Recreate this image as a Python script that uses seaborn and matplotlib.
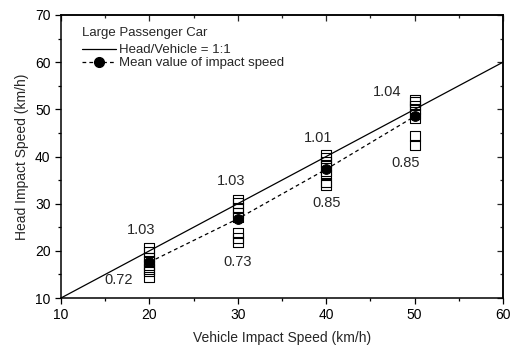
import numpy as np
import pandas as pd
import matplotlib
matplotlib.use("Agg")
import matplotlib.pyplot as plt
import seaborn as sns
from matplotlib.lines import Line2D
from matplotlib.ticker import MultipleLocator

# Vehicle impact speeds (km/h) and the measured head impact speeds at each
vehicle_speeds = [20, 30, 40, 50]
head_20 = [20.6, 19.8, 18.6, 17.8, 17.0, 16.2, 15.6, 14.4]
head_30 = [30.9, 30.2, 29.0, 28.0, 27.2, 23.8, 22.8, 21.9]
head_40 = [40.4, 39.6, 38.8, 38.0, 37.0, 36.2, 34.5, 34.0]
head_50 = [52.0, 51.5, 50.8, 50.0, 49.0, 48.2, 44.4, 42.5]

# Mean head impact speed at each vehicle speed
mean_speeds = [17.6, 26.8, 37.3, 48.5]

# Head/vehicle ratios for the highest and lowest runs
ratio_max = ["1.03", "1.03", "1.01", "1.04"]
ratio_min = ["0.72", "0.73", "0.85", "0.85"]

# Reference line Head/Vehicle = 1:1
ref_x = [10, 60]

groups = [head_20, head_30, head_40, head_50]
df = pd.DataFrame({
    "vehicle": np.repeat(vehicle_speeds, [len(g) for g in groups]),
    "head": np.concatenate(groups),
})
df_mean = pd.DataFrame({"vehicle": vehicle_speeds, "head": mean_speeds})
df_ref = pd.DataFrame({"vehicle": ref_x, "head": ref_x})

sns.set_theme(style="ticks")
plt.rcParams["font.family"] = ["Liberation Sans", "DejaVu Sans"]

W, H = 516, 350
fig = plt.figure(figsize=(W / 100, H / 100), dpi=100)
ax = fig.add_axes([61 / W, 1 - 298 / H, 442 / W, 283 / H])

dash = (0, (3, 2.5))
sns.scatterplot(data=df, x="vehicle", y="head", marker="s", s=50,
                facecolor="none", edgecolor="black", linewidth=0.8,
                ax=ax, zorder=2, legend=False)
sns.lineplot(data=df_ref, x="vehicle", y="head", color="black", lw=0.9,
             ax=ax, zorder=3, legend=False)
sns.lineplot(data=df_mean, x="vehicle", y="head", color="black", lw=0.9,
             linestyle=dash, marker="o", markersize=7,
             markeredgecolor="black", ax=ax, zorder=4, legend=False)

# Ratio annotations above the highest and below the lowest run
hi_offsets = [(-6, 13), (-5, 13), (-6, 12), (-20, 6)]
lo_offsets = [(-22, -2), (0, -14.5), (0, -13), (-6.5, -13)]
for xv, grp, rmax, rmin, ho, lo in zip(vehicle_speeds, groups, ratio_max,
                                       ratio_min, hi_offsets, lo_offsets):
    ax.annotate(rmax, (xv, max(grp)), xytext=ho, textcoords="offset points",
                ha="center", va="center", fontsize=10.5)
    ax.annotate(rmin, (xv, min(grp)), xytext=lo, textcoords="offset points",
                ha="center", va="center", fontsize=10.5)

ax.set_xlim(10, 60)
ax.set_ylim(10, 70)
ax.xaxis.set_major_locator(MultipleLocator(10))
ax.xaxis.set_minor_locator(MultipleLocator(5))
ax.yaxis.set_major_locator(MultipleLocator(10))
ax.yaxis.set_minor_locator(MultipleLocator(5))
ax.set_xlabel("Vehicle Impact Speed (km/h)", fontsize=10, labelpad=6)
ax.set_ylabel("Head Impact Speed (km/h)", fontsize=10, labelpad=4)

for side in ["top", "right", "bottom", "left"]:
    ax.spines[side].set_visible(True)
    ax.spines[side].set_linewidth(1.1)
    ax.spines[side].set_color("black")

ax.tick_params(which="both", direction="out", top=False, right=False,
               labelsize=10, colors="black", width=0.9)
ax.tick_params(which="major", length=4)
ax.tick_params(which="minor", length=2.5)

# Inward ticks on the top and right frame
ax_top = ax.secondary_xaxis("top")
ax_top.xaxis.set_major_locator(MultipleLocator(10))
ax_top.xaxis.set_minor_locator(MultipleLocator(5))
ax_top.tick_params(which="both", direction="in", labeltop=False, width=0.9)
ax_top.tick_params(which="major", length=4)
ax_top.tick_params(which="minor", length=2.5)
ax_right = ax.secondary_yaxis("right")
ax_right.yaxis.set_major_locator(MultipleLocator(10))
ax_right.yaxis.set_minor_locator(MultipleLocator(5))
ax_right.tick_params(which="both", direction="in", labelright=False, width=0.9)
ax_right.tick_params(which="major", length=4)
ax_right.tick_params(which="minor", length=2.5)

# Legend with its heading set a little apart from the entries
fig.text(82 / W, 1 - 33 / H, "Large Passenger Car", ha="left", va="center",
         fontsize=9.5)
handles = [
    Line2D([], [], color="black", lw=0.9),
    Line2D([], [], color="black", lw=0.9, linestyle=dash,
           marker="o", markersize=7),
]
ax.legend(handles, ["Head/Vehicle = 1:1", "Mean value of impact speed"],
          loc="upper left", bbox_to_anchor=(21 / 442, (298 - 44) / 283),
          frameon=False, fontsize=9.5, handlelength=2.6, handletextpad=0.2,
          labelspacing=0.05, borderaxespad=0, borderpad=0)

fig.savefig("out.png", dpi=100)
